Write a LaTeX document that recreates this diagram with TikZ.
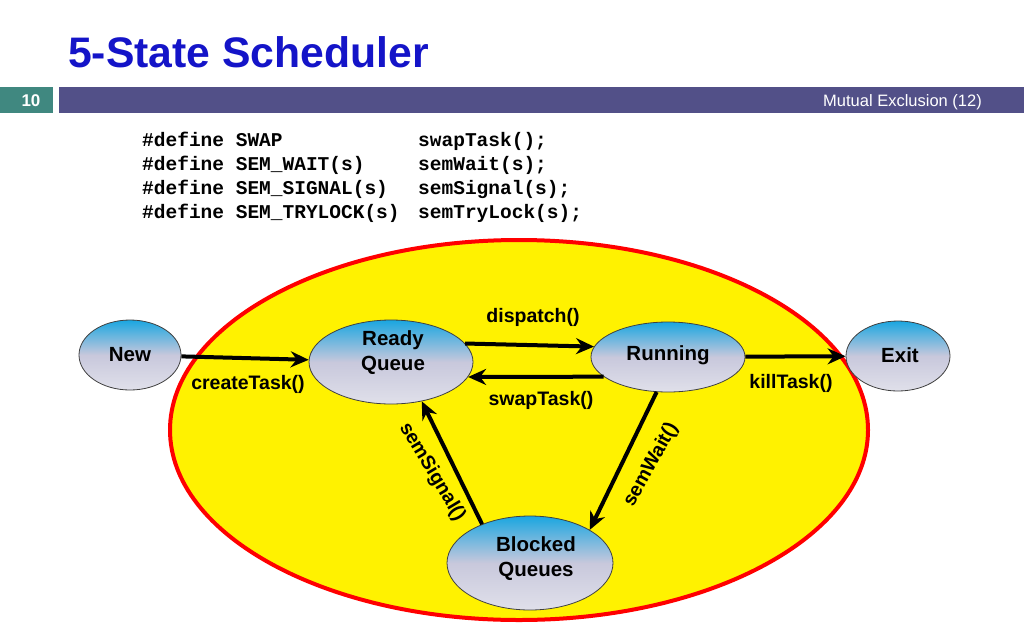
\documentclass[tikz,border=0pt]{standalone}
\usepackage{fontspec}
\setmainfont{Liberation Sans}
\setmonofont{Liberation Mono}
\usetikzlibrary{shapes.geometric,arrows.meta}
\definecolor{titleblue}{RGB}{20,20,200}
\definecolor{tealbox}{RGB}{64,136,128}
\definecolor{barpurple}{RGB}{82,80,136}
\definecolor{shG}{RGB}{224,224,234}
\definecolor{shM}{RGB}{200,200,220}
\definecolor{shB}{RGB}{26,166,224}
\pgfdeclareverticalshading{stateshade}{100bp}{color(0bp)=(shG); color(25bp)=(shG); color(50bp)=(shM); color(75bp)=(shB); color(100bp)=(shB)}
\tikzset{
  state/.style={ellipse, draw=black!75, line width=0.8pt, shading=stateshade, inner sep=0pt},
  statetext/.style={align=center, inner sep=0pt, font=\bfseries\fontsize{20.5}{25}\selectfont},
  trans/.style={line width=4pt, -{Stealth[length=18pt,width=16pt,inset=6pt]}},
  lbl/.style={font=\bfseries\fontsize{19.5}{22}\selectfont, inner sep=0pt},
  code/.style={font=\ttfamily\bfseries\fontsize{19.5}{22}\selectfont, inner sep=0pt, anchor=base west},
}
\begin{document}
\begin{tikzpicture}[x=1pt,y=-1pt]
\useasboundingbox (0,0) rectangle (1024,640);
% header
\node[font=\bfseries\fontsize{42.7}{46}\selectfont, text=titleblue, anchor=base west, inner sep=0pt] (title) at (68,67) {5-State Scheduler};
\fill[tealbox] (0,87) rectangle (53,113);
\fill[barpurple] (59,87) rectangle (1024,113);
\node[font=\bfseries\fontsize{17}{20}\selectfont, text=white, anchor=base, inner sep=0pt] (num) at (31,106) {10};
\node[font=\fontsize{16.5}{18}\selectfont, text=white, anchor=base east, inner sep=0pt] (sect) at (982,106) {Mutual Exclusion (12)};
% code
\node[code] (c1a) at (142,146) {\#define SWAP};
\node[code] (c1b) at (418,146) {swapTask();};
\node[code] (c2a) at (142,170) {\#define SEM\_WAIT(s)};
\node[code] (c2b) at (418,170) {semWait(s);};
\node[code] (c3a) at (142,194) {\#define SEM\_SIGNAL(s)};
\node[code] (c3b) at (418,194) {semSignal(s);};
\node[code] (c4a) at (142,218) {\#define SEM\_TRYLOCK(s)};
\node[code] (c4b) at (418,218) {semTryLock(s);};
% big ellipse
\node[ellipse, draw=red, line width=4pt, fill=yellow, minimum width=698pt, minimum height=380pt] (world) at (519,430) {};
% states
\node[state, minimum width=102pt, minimum height=70pt] (new) at (130,355) {};
\node[state, minimum width=164pt, minimum height=84pt] (ready) at (391,362) {};
\node[state, minimum width=154pt, minimum height=70pt] (run) at (668,357) {};
\node[state, minimum width=104pt, minimum height=70pt] (exit) at (898,356) {};
\node[state, minimum width=166pt, minimum height=94pt] (blk) at (530,563) {};
\node[statetext] (newt) at (130,355) {New};
\node[statetext] (readyt) at (393,353) {Ready\\Queue};
\node[statetext] (runt) at (668,355) {Running};
\node[statetext] (exitt) at (900,355) {Exit};
\node[statetext] (blkt) at (536,559) {Blocked\\Queues};
% transitions
\draw[trans] (new) -- (ready);
\draw[trans] (ready.14) -- (run.172);
\draw[trans] (run.197) -- (ready.349);
\draw[trans] (run) -- (exit);
\draw[trans] (run.252) -- (blk.29);
\draw[trans] (blk.141) -- (ready.308);
% labels
\node[lbl] (lcreate) at (248,384) {createTask()};
\node[lbl] (ldisp) at (533,317) {dispatch()};
\node[lbl] (lswap) at (541,400) {swapTask()};
\node[lbl] (lkill) at (791,383) {killTask()};
\node[lbl, rotate=-59] (lsig) at (432,472) {semSignal()};
\node[lbl, rotate=61] (lwait) at (651,465) {semWait()};
\end{tikzpicture}
\end{document}
